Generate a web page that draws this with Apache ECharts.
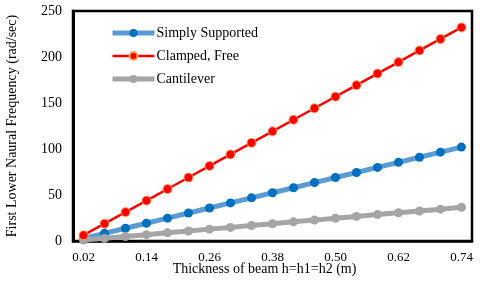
<!DOCTYPE html>
<html><head><meta charset="utf-8">
<script src="https://cdn.jsdelivr.net/npm/echarts@6/dist/echarts.min.js"></script>
<style>html,body{margin:0;padding:0;background:#fff}#c{width:480px;height:282px}</style>
</head><body><div id="c"></div>
<script>
const categories = ['0.02','0.06','0.10','0.14','0.18','0.22','0.26','0.30','0.34','0.38','0.42','0.46','0.50','0.54','0.58','0.62','0.66','0.70','0.74'];
const simplySupported = [2.8, 8.3, 13.8, 19.3, 24.8, 30.4, 35.9, 41.4, 46.9, 52.4, 57.9, 63.5, 69.0, 74.5, 80.0, 85.5, 91.0, 96.6, 102.1];
const clampedFree = [6.3, 18.8, 31.4, 43.9, 56.5, 69.0, 81.6, 94.1, 106.7, 119.2, 131.8, 144.3, 156.9, 169.4, 182.0, 194.5, 207.1, 219.6, 232.2];
const cantilever = [1.0, 3.0, 4.9, 6.9, 8.9, 10.9, 12.9, 14.8, 16.8, 18.8, 20.8, 22.7, 24.7, 26.7, 28.7, 30.7, 32.6, 34.6, 36.6];
const yTicks = [0, 50, 100, 150, 200, 250];

const font = 'Liberation Serif';
const chart = echarts.init(document.getElementById('c'), null, {renderer: 'canvas'});
chart.setOption({
  animation: false,
  backgroundColor: '#fff',
  textStyle: {fontFamily: font},
  grid: {left: 73, top: 11, right: 8, bottom: 41, outerBoundsMode: 'none', containLabel: false,
         show: true, borderColor: '#000', borderWidth: 2.5, backgroundColor: 'transparent'},
  legend: {
    orient: 'vertical', left: 105, top: 21, itemGap: 9, itemWidth: 42, itemHeight: 10,
    textStyle: {fontFamily: font, fontSize: 14, color: '#000', padding: [0,0,0,-3]},
    data: [
      {name: 'Simply Supported', lineStyle: {width: 5}},
      {name: 'Clamped, Free', lineStyle: {width: 2.5}},
      {name: 'Cantilever', lineStyle: {width: 5}}
    ]
  },
  xAxis: {
    type: 'category', data: categories, boundaryGap: true,
    name: 'Thickness of beam h=h1=h2 (m)', nameLocation: 'middle', nameGap: 21, nameMoveOverlap: false,
    nameTextStyle: {fontFamily: font, fontSize: 14, color: '#000', padding: [0,0,0,-16]},
    axisLine: {lineStyle: {color: '#000', width: 2.5}},
    axisTick: {show: false},
    axisLabel: {interval: 2, fontFamily: font, fontSize: 13, color: '#000', margin: 10}
  },
  yAxis: {
    type: 'value', min: yTicks[0], max: yTicks[yTicks.length-1], interval: 50,
    name: 'First Lower Naural Frequency (rad/sec)', nameLocation: 'middle', nameGap: 54, nameMoveOverlap: false,
    nameTextStyle: {fontFamily: font, fontSize: 14, color: '#000'},
    axisLine: {show: true, lineStyle: {color: '#000', width: 3}},
    axisTick: {show: false},
    splitLine: {show: false},
    axisLabel: {fontFamily: font, fontSize: 14, color: '#000', margin: 11}
  },
  series: [
    {name: 'Simply Supported', type: 'line', data: simplySupported, symbol: 'circle', symbolSize: 9,
     lineStyle: {color: '#5B9BD5', width: 5}, itemStyle: {color: '#0070C0', borderWidth: 0}, z: 2},
    {name: 'Clamped, Free', type: 'line', data: clampedFree, symbol: 'circle', symbolSize: 9,
     lineStyle: {color: '#FF0000', width: 2.5}, itemStyle: {color: '#FF0000', borderColor: '#F4A460', borderWidth: 1}, z: 3},
    {name: 'Cantilever', type: 'line', data: cantilever, symbol: 'circle', symbolSize: 9,
     lineStyle: {color: '#A5A5A5', width: 5}, itemStyle: {color: '#A5A5A5', borderWidth: 0}, z: 2}
  ]
});
</script></body></html>
